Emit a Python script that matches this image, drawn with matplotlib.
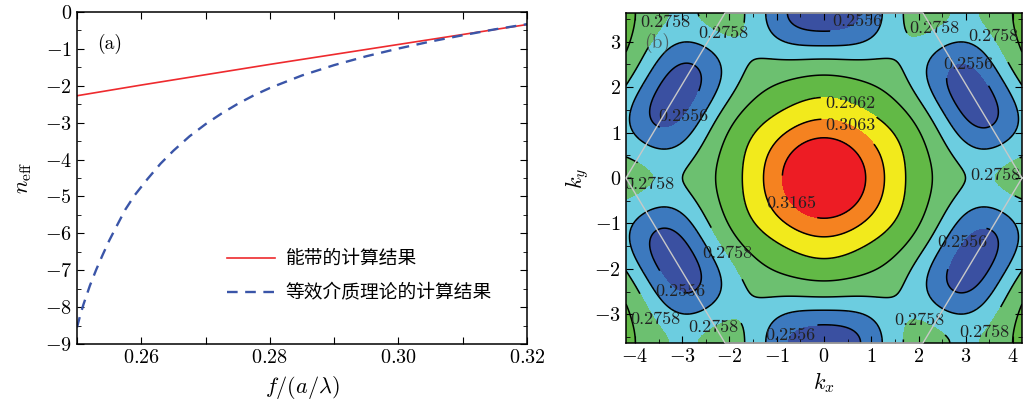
import numpy as np
import matplotlib
matplotlib.use("Agg")
import matplotlib.pyplot as plt
from matplotlib.ticker import MultipleLocator, FuncFormatter

plt.rcParams["font.family"] = ["cmr10", "Noto Sans CJK SC", "DejaVu Sans"]
plt.rcParams["mathtext.fontset"] = "cm"
plt.rcParams["axes.formatter.use_mathtext"] = True
plt.rcParams["axes.unicode_minus"] = True

# ---- panel (a): effective index vs normalised frequency ----
freq_band = [0.25, 0.26, 0.27, 0.28, 0.29, 0.30, 0.31, 0.32]
neff_band = [-2.27, -1.98, -1.70, -1.42, -1.15, -0.88, -0.61, -0.34]

freq_emt = [0.2500, 0.2505, 0.2510, 0.2520, 0.2530, 0.2540, 0.2550, 0.2560,
            0.2575, 0.2590, 0.2610, 0.2630, 0.2650, 0.2675, 0.2700, 0.2725,
            0.2750, 0.2775, 0.2800, 0.2850, 0.2900, 0.2950, 0.3000, 0.3050,
            0.3100, 0.3150, 0.3200]
neff_emt = [-8.55, -8.22, -7.93, -7.42, -6.98, -6.58, -6.20, -5.86,
            -5.36, -4.96, -4.52, -4.11, -3.76, -3.37, -3.04, -2.75,
            -2.49, -2.26, -2.06, -1.72, -1.44, -1.20, -0.99, -0.80,
            -0.63, -0.47, -0.33]

legend_labels = ["能带的计算结果", "等效介质理论的计算结果"]

# ---- panel (b): iso-frequency contours of the band in k-space ----
# frequencies read off the picture along Gamma-K, Gamma-M, the zone edge M-K
# and around the ellipse that sits on the M point
samp_kx = [0.0, 0.45, 0.82, 1.30, 1.78, 2.24, 3.00, 3.25, 3.50, 4.19,
           0.0, 0.0, 0.0, 0.0, 0.0, 0.0, 0.0, 0.0,
           0.85, 1.27, 1.64, 0.60, 0.90]
samp_ky = [0.0, 0.0, 0.0, 0.0, 0.0, 0.0, 0.0, 0.0, 0.0, 0.0,
           0.87, 1.35, 1.76, 2.20, 2.62, 2.94, 3.24, 3.628,
           3.628, 3.628, 3.628, 3.352, 3.14]
samp_f = [0.331, 0.325, 0.3165, 0.3063, 0.2962, 0.2860, 0.2758, 0.2735, 0.2758, 0.2790,
          0.3165, 0.3063, 0.2962, 0.2860, 0.2758, 0.2657, 0.2556, 0.2490,
          0.2556, 0.2657, 0.2758, 0.2556, 0.2657]

contour_levels = [0.2556, 0.2657, 0.2758, 0.2860, 0.2962, 0.3063, 0.3165]
labelled_levels = [0.2556, 0.2758, 0.2962, 0.3063, 0.3165]
band_colors = ["#3a50a1", "#3c79be", "#6ccde0", "#6cc070", "#62b946",
               "#f2ea1c", "#f58220", "#ed1c24"]

label_kx = [-3.37, -2.17, 0.75, 2.36, 3.52, 3.10, 0.56, 0.56, -3.00, 3.41,
            -3.67, -0.69, 2.86, -2.06, -3.10, -3.54, -2.38, -0.88, 2.02, 3.25]
label_ky = [3.43, 3.08, 3.41, 3.24, 3.08, 2.64, 1.67, 1.15, 1.37, 0.16,
            -0.17, -0.56, -1.38, -1.66, -2.67, -3.09, -3.20, -3.33, -3.09, -3.29]


def shell_basis(kx, ky, n_shells=8):
    """cosine sums over the shells of the triangular lattice (a = 1)"""
    a1 = np.array([1.0, 0.0])
    a2 = np.array([0.5, np.sqrt(3) / 2])
    nn = np.arange(-6, 7)
    lat = np.array([n * a1 + m * a2 for n in nn for m in nn])
    r2 = np.round((lat ** 2).sum(axis=1), 6)
    cols = []
    for s in np.unique(r2)[:n_shells]:
        R = lat[r2 == s]
        ph = np.multiply.outer(kx, R[:, 0]) + np.multiply.outer(ky, R[:, 1])
        cols.append(np.cos(ph).sum(axis=-1))
    return np.stack(cols, axis=-1)


def band_surface():
    A = shell_basis(np.array(samp_kx), np.array(samp_ky))
    coef = np.linalg.lstsq(A, np.array(samp_f), rcond=None)[0]
    kxm = 4 * np.pi / 3
    kym = 2 * np.pi / np.sqrt(3)
    kx = np.linspace(-kxm, kxm, 400)
    ky = np.linspace(-kym, kym, 360)
    KX, KY = np.meshgrid(kx, ky)
    return KX, KY, shell_basis(KX, KY) @ coef


def style_axes(ax):
    ax.tick_params(which="both", direction="in", top=True, right=True, labelsize=14.5)
    ax.tick_params(which="major", length=5, width=0.8)
    ax.tick_params(which="minor", length=3, width=0.6)
    for sp in ax.spines.values():
        sp.set_linewidth(1.1)


def main():
    fig = plt.figure(figsize=(10.23, 4.04), dpi=100)

    # (a)
    ax = fig.add_axes([77 / 1023, 1 - 344 / 404, 450 / 1023, 332 / 404])
    ax.plot(freq_band, neff_band, color="#ee2a2e", lw=1.2, label=legend_labels[0])
    ax.plot(freq_emt, neff_emt, color="#3a55a8", lw=1.7, ls=(0, (4.5, 3.2)),
            label=legend_labels[1])
    ax.set_xlim(0.25, 0.32)
    ax.set_ylim(-9, 0)
    ax.xaxis.set_major_locator(MultipleLocator(0.01))
    ax.xaxis.set_major_formatter(FuncFormatter(
        lambda v, p: "$%.2f$" % v if round(v * 100) % 2 == 0 and v > 0.255 else ""))
    ax.yaxis.set_major_locator(MultipleLocator(1))
    ax.yaxis.set_minor_locator(MultipleLocator(0.5))
    style_axes(ax)
    ax.set_xlabel(r"$f/(a/\lambda)$", fontsize=16, labelpad=5)
    ax.set_ylabel(r"$n_{\rm eff}$", fontsize=16, labelpad=8)
    ax.text(0.045, 0.905, "(a)", transform=ax.transAxes, fontsize=14, va="center")
    ax.legend(loc="upper left", bbox_to_anchor=(0.317, 0.305), frameon=False,
              fontsize=13.5, handlelength=2.56, labelspacing=0.85, handletextpad=0.55,
              borderaxespad=0.0)

    # (b)
    bx = fig.add_axes([626 / 1023, 1 - 343 / 404, 396 / 1023, 330 / 404])
    KX, KY, F = band_surface()
    fill_levels = [0.2556 - 0.03] + contour_levels + [0.3165 + 0.03]
    bx.contourf(KX, KY, F, levels=fill_levels, colors=band_colors, extend="both")
    plain_levels = [v for v in contour_levels if v not in labelled_levels]
    bx.contour(KX, KY, F, levels=plain_levels, colors="k", linewidths=1.1)
    cs = bx.contour(KX, KY, F, levels=labelled_levels, colors="k", linewidths=1.1)
    labels = bx.clabel(cs, fmt=lambda v: "%.4f" % v, fontsize=13,
                       colors="#222222", inline=True,
                       manual=list(zip(label_kx, label_ky)))
    for t in labels:
        t.set_rotation(0)

    kxm = 4 * np.pi / 3
    kym = 2 * np.pi / np.sqrt(3)
    hx = [kxm, kxm / 2, -kxm / 2, -kxm, -kxm / 2, kxm / 2, kxm]
    hy = [0, kym, kym, 0, -kym, -kym, 0]
    bx.plot(hx, hy, color="#c8c8c8", lw=1.0, zorder=5, clip_on=False)
    bx.set_xlim(-kxm, kxm)
    bx.set_ylim(-kym, kym)
    bx.xaxis.set_major_locator(MultipleLocator(1))
    bx.xaxis.set_minor_locator(MultipleLocator(0.5))
    bx.yaxis.set_major_locator(MultipleLocator(1))
    bx.yaxis.set_minor_locator(MultipleLocator(0.5))
    style_axes(bx)
    bx.set_xlabel(r"$k_x$", fontsize=16, labelpad=3)
    bx.set_ylabel(r"$k_y$", fontsize=16, labelpad=2)
    bx.text(-3.8, 2.97, "(b)", fontsize=14, color="#444444", va="center", alpha=0.8)

    fig.savefig("out.png", dpi=100)


if __name__ == "__main__":
    main()
